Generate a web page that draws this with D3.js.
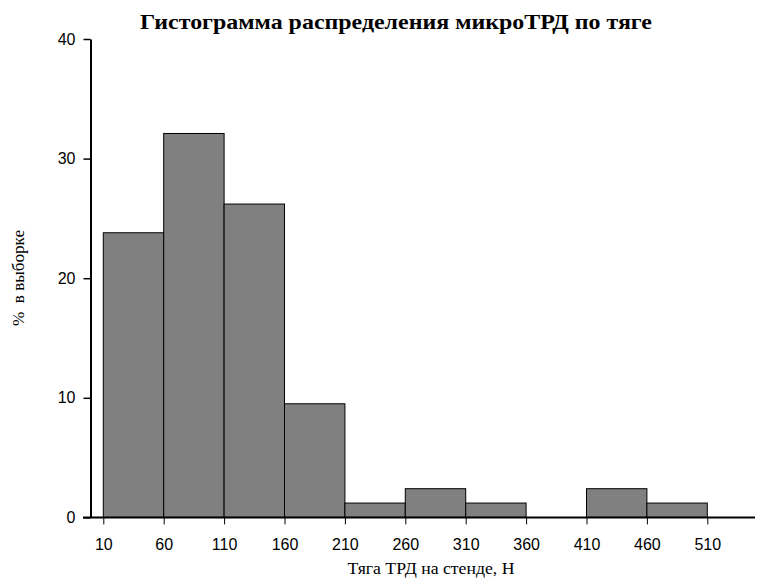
<!DOCTYPE html>
<html>
<head>
<meta charset="utf-8">
<script src="https://cdn.jsdelivr.net/npm/d3@7"></script>
<style>
  body { margin: 0; background: #fff; }
  svg { display: block; }
</style>
</head>
<body>
<svg id="chart" width="757" height="578"></svg>
<script>
// Histogram bins (lower edges, N) and share of the sample per bin, %
const binStarts = [10, 60, 110, 160, 210, 260, 310, 360, 410, 460];
const binWidth = 50;
const percents = [23.8, 32.1, 26.2, 9.5, 1.2, 2.4, 1.2, 0, 2.4, 1.2];
const xTicks = [10, 60, 110, 160, 210, 260, 310, 360, 410, 460, 510];
const yTicks = [0, 10, 20, 30, 40];

const svg = d3.select("#chart");

const x = d3.scaleLinear().domain([10, 510]).range([103.3, 707.3]);
const y = d3.scaleLinear().domain([0, 40]).range([517.4, 39]);

// bars
svg.append("g")
  .selectAll("rect")
  .data(binStarts.map((s, i) => ({ s, v: percents[i] })).filter(d => d.v > 0))
  .join("rect")
  .attr("x", d => x(d.s))
  .attr("y", d => y(d.v))
  .attr("width", d => x(d.s + binWidth) - x(d.s))
  .attr("height", d => y(0) - y(d.v))
  .attr("fill", "#808080")
  .attr("stroke", "#000")
  .attr("stroke-width", 1);

// x axis: baseline runs past the last bin
const xAxis = svg.append("g").attr("transform", `translate(0,${y(0)})`);
xAxis.append("line")
  .attr("x1", 83).attr("x2", 755)
  .attr("stroke", "#000").attr("stroke-width", 2);
xAxis.call(d3.axisBottom(x).tickValues(xTicks).tickSize(7).tickSizeOuter(0).tickPadding(14))
  .call(g => g.select(".domain").remove())
  .call(g => g.selectAll(".tick line").attr("stroke", "#000").attr("stroke-width", 1))
  .call(g => g.selectAll(".tick text")
    .attr("font-family", "'Liberation Sans', Arial, sans-serif")
    .attr("font-size", 16).attr("fill", "#000"));

// y axis
const yAxis = svg.append("g").attr("transform", `translate(90.5,0)`);
yAxis.call(d3.axisLeft(y).tickValues(yTicks).tickSize(7).tickSizeOuter(0).tickPadding(8))
  .call(g => g.select(".domain").attr("stroke", "#000").attr("stroke-width", 2))
  .call(g => g.selectAll(".tick line").attr("stroke", "#000").attr("stroke-width", 1.5))
  .call(g => g.selectAll(".tick text")
    .attr("font-family", "'Liberation Sans', Arial, sans-serif")
    .attr("font-size", 16).attr("fill", "#000"));

const serif = "'Liberation Serif', 'Times New Roman', serif";

// title
svg.append("text")
  .attr("x", 396).attr("y", 29)
  .attr("text-anchor", "middle")
  .attr("font-family", serif)
  .attr("font-weight", "bold")
  .attr("font-size", 21)
  .attr("textLength", 512)
  .attr("lengthAdjust", "spacingAndGlyphs")
  .text("Гистограмма распределения микроТРД по тяге");

// axis titles
svg.append("text")
  .attr("x", 431).attr("y", 574)
  .attr("text-anchor", "middle")
  .attr("font-family", serif)
  .attr("font-size", 17)
  .attr("textLength", 167)
  .attr("lengthAdjust", "spacingAndGlyphs")
  .text("Тяга ТРД на стенде, Н");

svg.append("text")
  .attr("transform", "translate(24,278) rotate(-90)")
  .attr("text-anchor", "middle")
  .attr("font-family", serif)
  .attr("font-size", 16)
  .attr("textLength", 96)
  .attr("lengthAdjust", "spacingAndGlyphs")
  .style("white-space", "pre")
  .text("%  в выборке");
</script>
</body>
</html>
